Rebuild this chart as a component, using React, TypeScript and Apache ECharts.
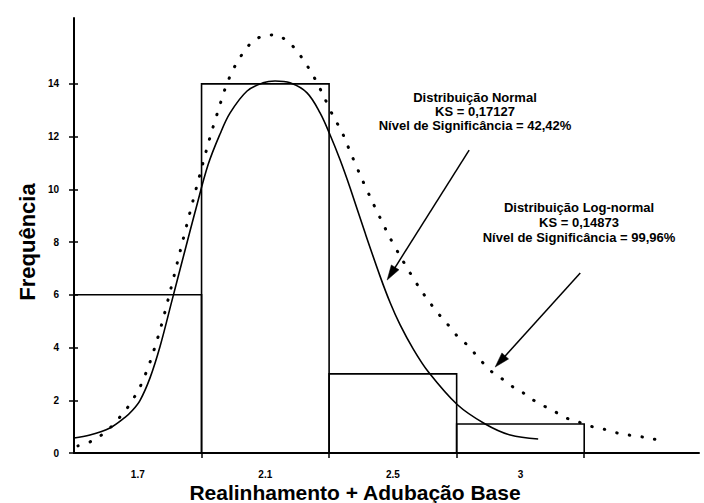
import React, { useEffect, useRef } from "react";
import * as echarts from "echarts";

// Histogram (x in bin-position units: bin i spans [i, i+1])
const binEdges = [0, 1, 2, 3, 4];
const frequencies = [6, 14, 3, 1.1];
const xTickLabels = ["1.7", "2.1", "2.5", "3"];
const xLabelPositions = [0.5, 1.5, 2.5, 3.5];
const xTickPositions = [1, 2, 3, 4];
const yTickValues = [0, 2, 4, 6, 8, 10, 12, 14];

// Fitted normal curve (solid)
const normalX = [0, 0.125, 0.282, 0.4, 0.455, 0.518, 0.596, 0.675, 0.769, 0.871, 0.949, 1.051, 1.145, 1.224, 1.357, 1.482, 1.576, 1.694, 1.827, 1.929, 2.008, 2.086, 2.165, 2.282, 2.4, 2.478, 2.557, 2.659, 2.776, 3.004, 3.224, 3.42, 3.639];
const normalY = [0.57, 0.68, 0.95, 1.35, 1.6, 2.0, 2.85, 4.05, 5.8, 7.7, 9.14, 10.93, 12.1, 12.9, 13.73, 14.04, 14.11, 14.04, 13.66, 12.9, 12.06, 11.12, 10.05, 8.35, 6.7, 5.71, 4.86, 3.95, 3.09, 1.84, 1.1, 0.68, 0.53];

// Fitted log-normal curve (dotted)
const lognormalX = [0.031, 0.125, 0.204, 0.29, 0.361, 0.424, 0.478, 0.525, 0.596, 0.675, 0.753, 0.831, 0.91, 0.988, 1.067, 1.122, 1.184, 1.224, 1.271, 1.325, 1.396, 1.482, 1.576, 1.671, 1.741, 1.804, 1.859, 1.906, 1.953, 2.039, 2.094, 2.133, 2.173, 2.243, 2.322, 2.4, 2.478, 2.557, 2.635, 2.714, 2.792, 2.871, 2.933, 3.004, 3.082, 3.145, 3.208, 3.278, 3.357, 3.443, 3.522, 3.6, 3.686, 3.773, 3.859, 3.953, 4.047, 4.149, 4.259, 4.353, 4.455, 4.541, 4.635];
const lognormalY = [0.27, 0.42, 0.64, 0.99, 1.37, 1.75, 2.16, 2.58, 3.45, 4.67, 6.11, 7.63, 9.14, 10.58, 11.99, 12.86, 13.81, 14.3, 14.76, 15.17, 15.59, 15.82, 15.86, 15.63, 15.29, 14.87, 14.45, 14.04, 13.58, 12.71, 12.25, 11.8, 11.34, 10.55, 9.71, 8.92, 8.16, 7.47, 6.83, 6.22, 5.69, 5.2, 4.86, 4.44, 4.1, 3.76, 3.41, 3.07, 2.81, 2.5, 2.28, 2.01, 1.78, 1.56, 1.33, 1.18, 1.02, 0.91, 0.76, 0.68, 0.61, 0.53, 0.46];

// Annotations
const normalNote = ["Distribuição Normal", "KS = 0,17127", "Nível de Significância = 42,42%"];
const lognormalNote = ["Distribuição Log-normal", "KS = 0,14873", "Nível de Significância = 99,96%"];
const normalArrow = { from: [3.098, 11.49], to: [2.455, 6.56] };
const lognormalArrow = { from: [3.969, 6.83], to: [3.302, 3.26] };

const FONT = '"Liberation Sans", Arial, Helvetica, sans-serif';

function arrowGraphics(chart: any, a: { from: number[]; to: number[] }) {
  const p0 = chart.convertToPixel({ gridIndex: 0 }, a.from);
  const p1 = chart.convertToPixel({ gridIndex: 0 }, a.to);
  const dx = p1[0] - p0[0];
  const dy = p1[1] - p0[1];
  const len = Math.sqrt(dx * dx + dy * dy);
  const ux = dx / len;
  const uy = dy / len;
  const L = 15;
  const W = 9;
  const bx = p1[0] - ux * L;
  const by = p1[1] - uy * L;
  const nx = -uy;
  const ny = ux;
  return [
    {
      type: "line",
      shape: { x1: p0[0], y1: p0[1], x2: bx + ux * 2, y2: by + uy * 2 },
      style: { stroke: "#000", lineWidth: 1.5 },
      z: 100,
    },
    {
      type: "polygon",
      shape: {
        points: [
          [p1[0], p1[1]],
          [bx + (nx * W) / 2, by + (ny * W) / 2],
          [bx - (nx * W) / 2, by - (ny * W) / 2],
        ],
      },
      style: { fill: "#000", stroke: "#000", lineWidth: 0.5 },
      z: 100,
    },
  ];
}

export default function App() {
  const ref = useRef<HTMLDivElement>(null);

  useEffect(() => {
    if (!ref.current) return;
    const chart = echarts.init(ref.current, null, { renderer: "svg" });

    const histData = frequencies.map((f, i) => [binEdges[i], binEdges[i + 1], f]);

    const option: any = {
      animation: false,
      backgroundColor: "#fff",
      grid: { left: 74, top: 18, width: 625, height: 435, containLabel: false, outerBoundsMode: "none" },
      xAxis: {
        type: "value",
        min: 0,
        max: 4.9,
        axisLine: { show: true, onZero: false, lineStyle: { color: "#000", width: 2 } },
        axisTick: { show: true, customValues: xTickPositions, length: 5, lineStyle: { color: "#000", width: 1.5 } },
        axisLabel: {
          show: true,
          customValues: xLabelPositions,
          formatter: (v: number) => {
            const idx = xLabelPositions.findIndex((p) => Math.abs(p - v) < 1e-6);
            return idx >= 0 ? xTickLabels[idx] : "";
          },
          margin: 16,
          color: "#000",
          fontSize: 10,
          lineHeight: 10,
          fontWeight: "bold",
          fontFamily: FONT,
        },
        splitLine: { show: false },
      },
      yAxis: [
        {
          type: "value",
          min: 0,
          max: 16.5,
          interval: 2,
          axisLine: { show: true, lineStyle: { color: "#000", width: 2 } },
          axisTick: { show: true, customValues: yTickValues, length: 5, lineStyle: { color: "#000", width: 1.5 } },
          axisLabel: {
            show: true,
            customValues: yTickValues,
            margin: 15,
            color: "#000",
            fontSize: 10,
            fontWeight: "bold",
            fontFamily: FONT,
          },
          splitLine: { show: false },
        },
        {
          type: "value",
          position: "left",
          min: 0,
          max: 16.5,
          interval: 2,
          axisLine: { show: false },
          axisTick: { show: true, inside: true, customValues: yTickValues, length: 4, lineStyle: { color: "#000", width: 1.5 } },
          axisLabel: { show: false },
          splitLine: { show: false },
        },
      ],
      series: [
        {
          type: "custom",
          data: histData,
          encode: { x: [0, 1], y: 2 },
          renderItem: (params: any, api: any) => {
            const p0 = api.coord([api.value(0), 0]);
            const p1 = api.coord([api.value(1), api.value(2)]);
            return {
              type: "rect",
              shape: { x: p0[0], y: p1[1], width: p1[0] - p0[0], height: p0[1] - p1[1] },
              style: { fill: "none", stroke: "#000", lineWidth: 1.6 },
            };
          },
          z: 2,
        },
        {
          type: "line",
          data: normalX.map((x, i) => [x, normalY[i]]),
          showSymbol: false,
          smooth: 0.35,
          lineStyle: { color: "#000", width: 1.6 },
          z: 3,
        },
        {
          type: "line",
          data: lognormalX.map((x, i) => [x, lognormalY[i]]),
          showSymbol: false,
          smooth: 0.3,
          lineStyle: { color: "#000", width: 3, type: [0.5, 12.3], cap: "round" },
          z: 3,
        },
      ],
    };

    chart.setOption(option);

    const graphic: any[] = [
      {
        type: "text",
        x: 27,
        y: 242,
        rotation: Math.PI / 2,
        style: {
          text: "Frequência",
          fill: "#000",
          font: `bold 22px ${FONT}`,
          align: "center",
          verticalAlign: "middle",
        },
      },
      {
        type: "text",
        x: 355,
        y: 492,
        style: {
          text: "Realinhamento + Adubação Base",
          fill: "#000",
          font: `bold 21px ${FONT}`,
          lineHeight: 20,
          align: "center",
          verticalAlign: "middle",
        },
      },
      {
        type: "text",
        x: 475,
        y: 111,
        style: {
          text: normalNote.join("\n"),
          fill: "#000",
          font: `bold 13px ${FONT}`,
          lineHeight: 14,
          align: "center",
          verticalAlign: "middle",
        },
      },
      {
        type: "text",
        x: 579,
        y: 222,
        style: {
          text: lognormalNote.join("\n"),
          fill: "#000",
          font: `bold 13px ${FONT}`,
          lineHeight: 15,
          align: "center",
          verticalAlign: "middle",
        },
      },
      ...arrowGraphics(chart, normalArrow),
      ...arrowGraphics(chart, lognormalArrow),
    ];

    chart.setOption({ graphic });

    return () => {
      chart.dispose();
    };
  }, []);

  return (
    <div
      ref={ref}
      style={{ position: "fixed", left: 0, top: 0, width: 704, height: 503, background: "#fff" }}
    />
  );
}
